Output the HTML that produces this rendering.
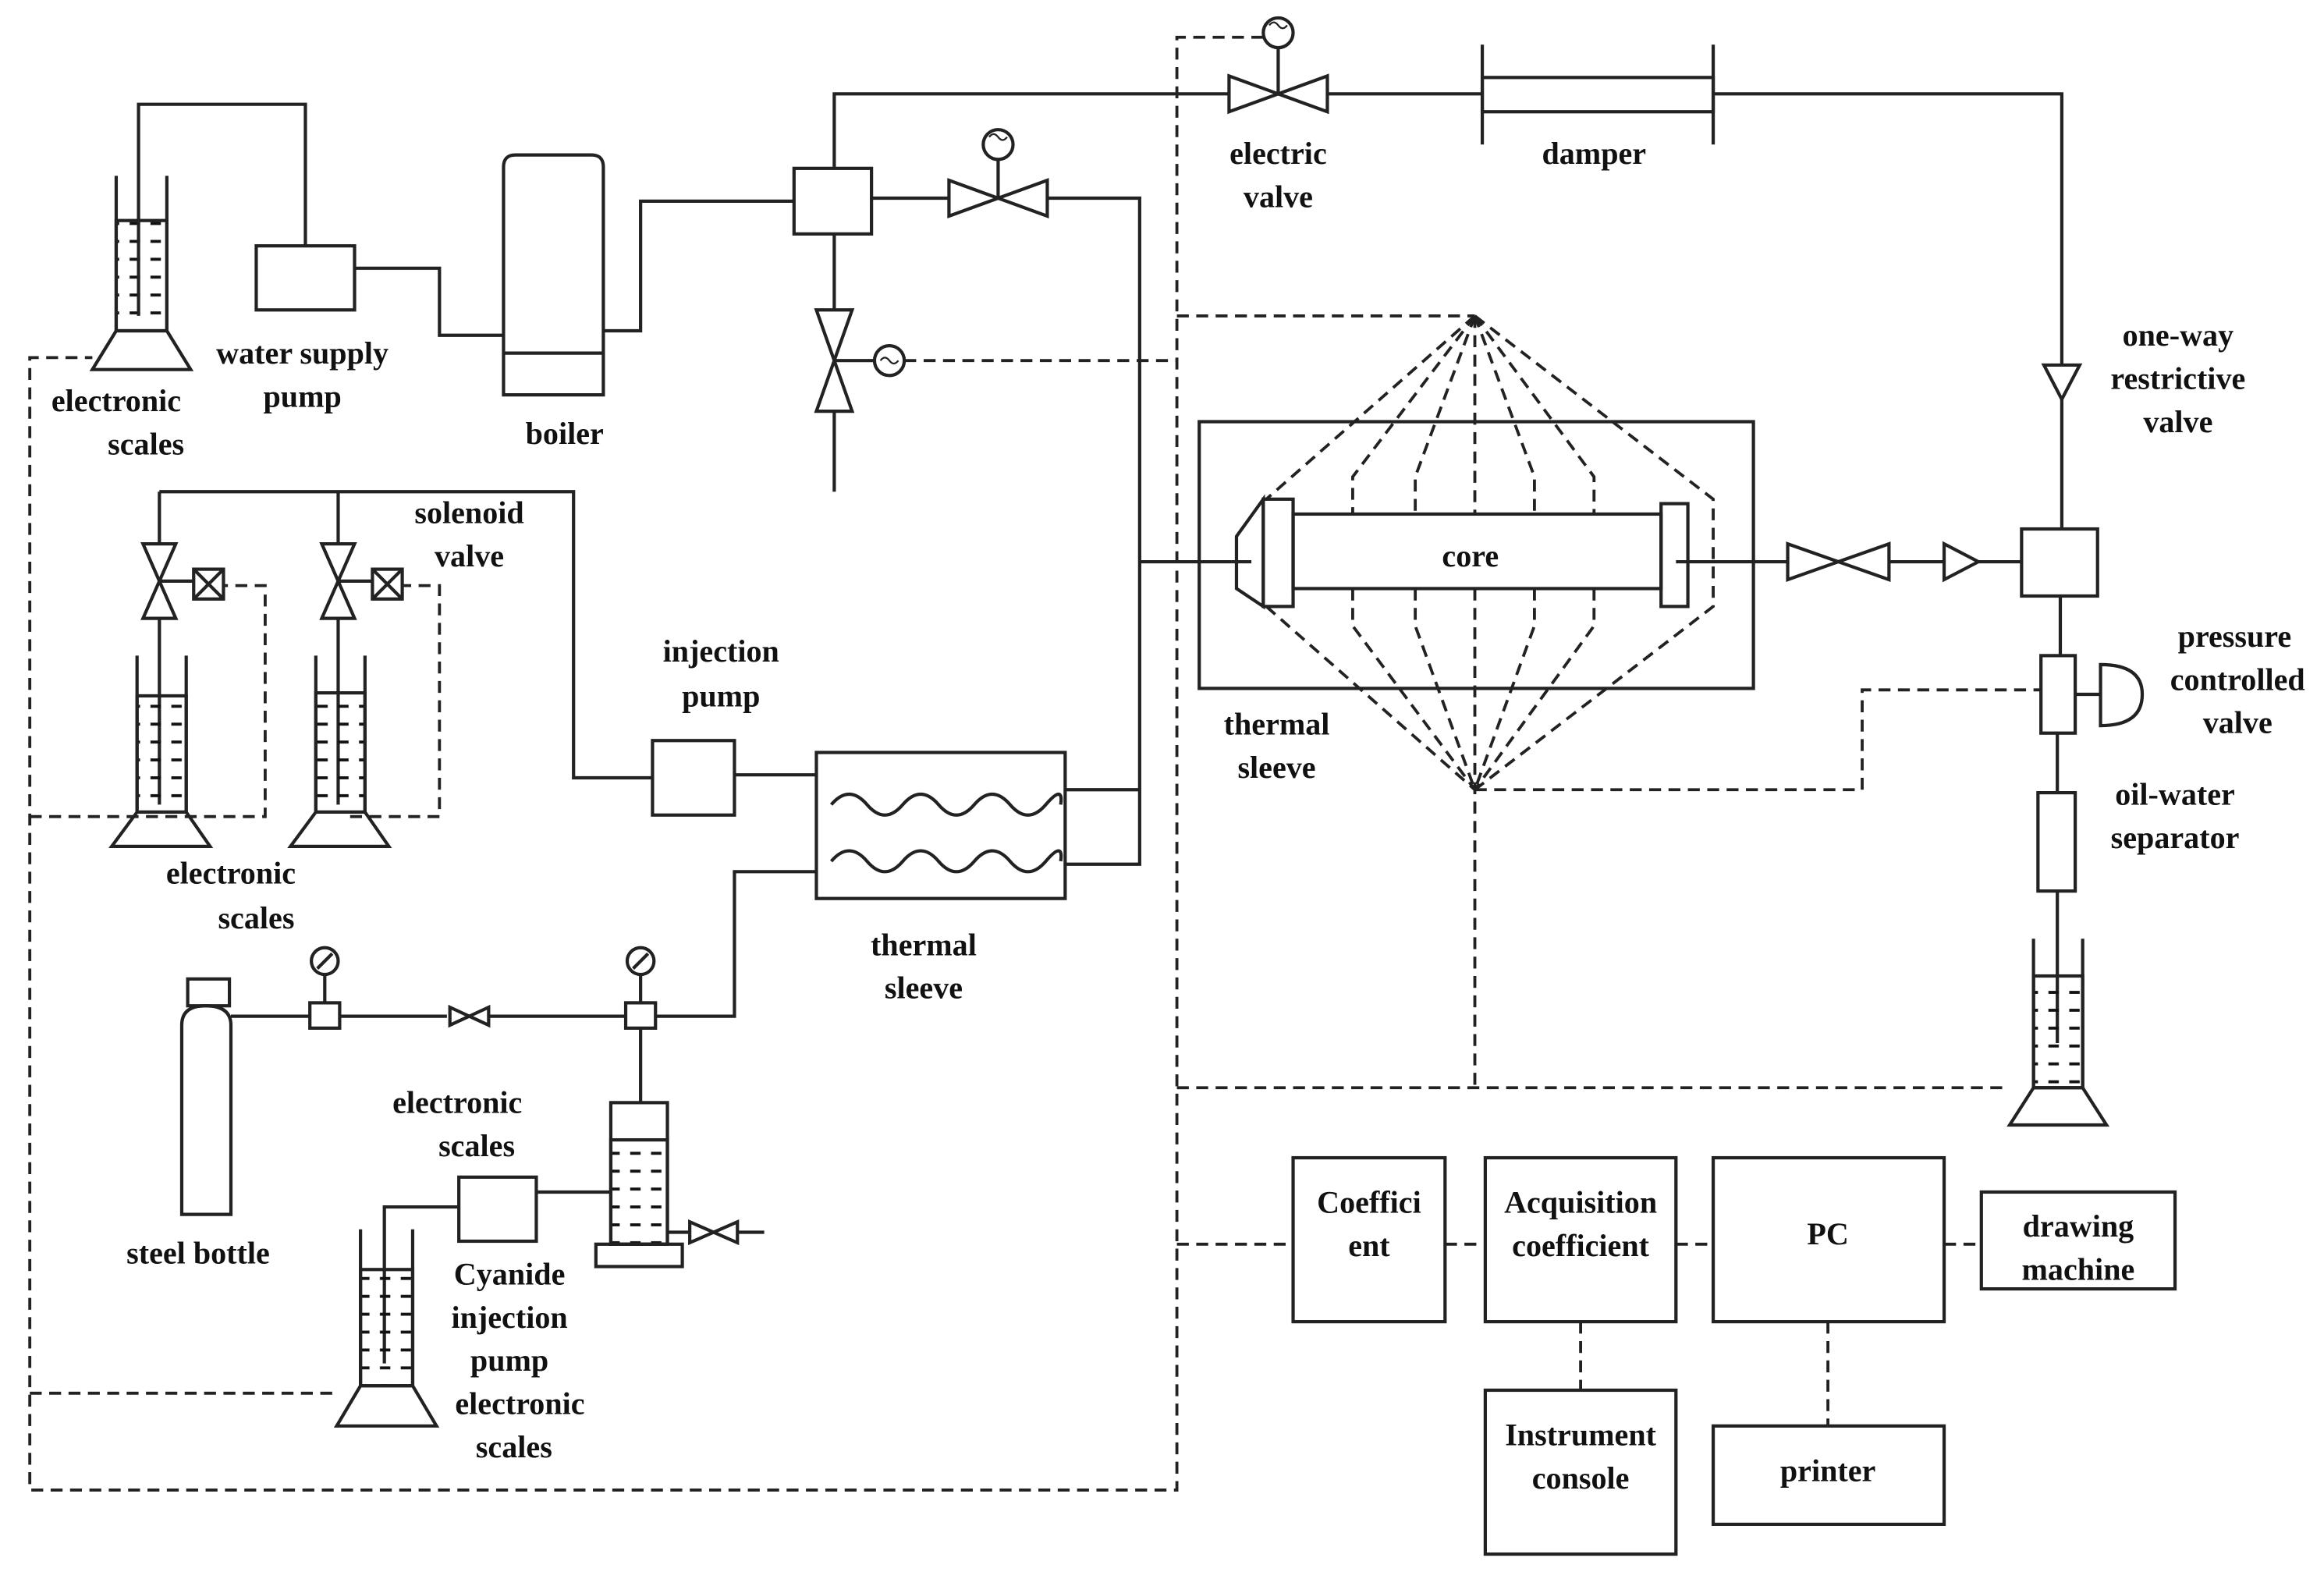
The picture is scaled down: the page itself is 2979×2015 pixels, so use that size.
<!DOCTYPE html>
<html><head><style>
html,body{margin:0;padding:0;background:#fff;}
svg{display:block;}
text{font-family:"Liberation Serif",serif;font-weight:bold;font-size:21px;fill:#111;text-anchor:middle;}
</style></head><body>
<svg width="2979" height="2015" viewBox="0 0 1560 1055" preserveAspectRatio="none" xmlns="http://www.w3.org/2000/svg">
<defs>
<pattern id="liq" width="14" height="12" patternUnits="userSpaceOnUse"><line x1="3" y1="6" x2="10" y2="6" stroke="#111" stroke-width="2"/></pattern>
</defs>
<g fill="none" stroke="#222" stroke-width="2.2">
<line x1="78" y1="118" x2="78" y2="222"/><line x1="112" y1="118" x2="112" y2="222"/>
<rect x="78" y="148" width="34" height="74" fill="url(#liq)"/>
<polygon points="78,222 112,222 128,248 62,248"/>
<polyline points="93,212 93,70 205,70 205,165"/>
<rect x="172" y="165" width="66" height="43"/>
<polyline points="238,180 295,180 295,225 338,225"/>
<path d="M338,265 L338,112 Q338,104 346,104 L397,104 Q405,104 405,112 L405,265 Z"/>
<line x1="338" y1="237" x2="405" y2="237"/>
<polyline points="405,222 430,222 430,135 533,135"/>
<rect x="533" y="113" width="52" height="44"/>
<polyline points="560,113 560,63 825,63"/>
<polygon points="825,51 858,63 825,75"/><polygon points="891,51 858,63 891,75"/>
<line x1="858" y1="63" x2="858" y2="32"/><circle cx="858" cy="22" r="10"/>
<line x1="891" y1="63" x2="995" y2="63"/>
<rect x="995" y="52" width="155" height="23"/>
<line x1="995" y1="30" x2="995" y2="97"/><line x1="1150" y1="30" x2="1150" y2="97"/>
<polyline points="1150,63 1384,63 1384,245"/>
<polygon points="1372,245 1396,245 1384,268"/>
<line x1="1384" y1="268" x2="1384" y2="355"/>
<rect x="1357" y="355" width="51" height="45"/>
<line x1="1383" y1="400" x2="1383" y2="440"/>
<rect x="1370" y="440" width="23" height="52"/>
<line x1="1393" y1="466" x2="1410" y2="466"/>
<path d="M1410,446 Q1438,446 1438,466 Q1438,487 1410,487 Z"/>
<line x1="1381" y1="492" x2="1381" y2="532"/>
<rect x="1368" y="532" width="25" height="66"/>
<line x1="1381" y1="598" x2="1381" y2="700"/>
<line x1="1365" y1="630" x2="1365" y2="730"/><line x1="1398" y1="630" x2="1398" y2="730"/>
<rect x="1365" y="655" width="33" height="75" fill="url(#liq)"/>
<polygon points="1365,730 1398,730 1414,755 1349,755"/>
<line x1="585" y1="133" x2="637" y2="133"/>
<polygon points="637,121 670,133 637,145"/><polygon points="703,121 670,133 703,145"/>
<line x1="670" y1="133" x2="670" y2="107"/><circle cx="670" cy="97" r="10"/>
<polyline points="703,133 765,133 765,580 715,580"/>
<line x1="715" y1="530" x2="765" y2="530"/>
<line x1="765" y1="377" x2="840" y2="377"/>
<line x1="560" y1="157" x2="560" y2="208"/>
<polygon points="548,208 560,242 572,208"/><polygon points="548,276 560,242 572,276"/>
<line x1="560" y1="276" x2="560" y2="330"/>
<line x1="560" y1="242" x2="587" y2="242"/><circle cx="597" cy="242" r="10"/>
<rect x="805" y="283" width="372" height="179"/>
<polygon points="848,335 830,360 830,395 848,407"/>
<rect x="848" y="335" width="20" height="72" fill="#fff"/>
<rect x="868" y="345" width="247" height="50"/>
<rect x="1115" y="338" width="18" height="69"/>
<line x1="1125" y1="377" x2="1200" y2="377"/>
<polygon points="1200,365 1234,377 1200,389"/><polygon points="1268,365 1234,377 1268,389"/>
<line x1="1268" y1="377" x2="1305" y2="377"/>
<polygon points="1305,365 1328,377 1305,389"/>
<line x1="1328" y1="377" x2="1357" y2="377"/>
<polyline points="107,330 385,330 385,522 438,522"/>
<rect x="438" y="497" width="55" height="50"/>
<line x1="493" y1="520" x2="548" y2="520"/>
<rect x="548" y="505" width="167" height="98"/>
<path d="M558,540 q12,-14 24,0 t24,0 t24,0 t24,0 t24,0 t24,0 t10,0"/>
<path d="M558,578 q12,-14 24,0 t24,0 t24,0 t24,0 t24,0 t24,0 t10,0"/>
<line x1="107" y1="330" x2="107" y2="365"/>
<polygon points="96,365 107,390 118,365"/><polygon points="96,415 107,390 118,415"/>
<line x1="107" y1="390" x2="130" y2="390"/><rect x="130" y="382" width="20" height="20"/>
<line x1="130" y1="382" x2="150" y2="402"/><line x1="150" y1="382" x2="130" y2="402"/>
<line x1="107" y1="415" x2="107" y2="540"/>
<line x1="92" y1="440" x2="92" y2="545"/><line x1="125" y1="440" x2="125" y2="545"/>
<rect x="92" y="467" width="33" height="78" fill="url(#liq)"/>
<polygon points="92,545 125,545 141,568 75,568"/>
<line x1="227" y1="330" x2="227" y2="365"/>
<polygon points="216,365 227,390 238,365"/><polygon points="216,415 227,390 238,415"/>
<line x1="227" y1="390" x2="250" y2="390"/><rect x="250" y="382" width="20" height="20"/>
<line x1="250" y1="382" x2="270" y2="402"/><line x1="270" y1="382" x2="250" y2="402"/>
<line x1="227" y1="415" x2="227" y2="540"/>
<line x1="212" y1="440" x2="212" y2="545"/><line x1="245" y1="440" x2="245" y2="545"/>
<rect x="212" y="465" width="33" height="80" fill="url(#liq)"/>
<polygon points="212,545 245,545 261,568 195,568"/>
<rect x="126" y="657" width="28" height="18"/>
<path d="M122,815 L122,688 Q122,675 138,675 Q155,675 155,688 L155,815 Z"/>
<line x1="155" y1="682" x2="208" y2="682"/>
<rect x="208" y="673" width="20" height="17"/>
<line x1="218" y1="673" x2="218" y2="655"/><circle cx="218" cy="645" r="9"/><line x1="213" y1="650" x2="223" y2="640"/>
<line x1="228" y1="682" x2="300" y2="682"/>
<polygon points="302,676 315,682 302,688"/><polygon points="328,676 315,682 328,688"/>
<line x1="328" y1="682" x2="420" y2="682"/>
<rect x="420" y="673" width="20" height="17"/>
<line x1="430" y1="673" x2="430" y2="655"/><circle cx="430" cy="645" r="9"/><line x1="425" y1="650" x2="435" y2="640"/>
<polyline points="440,682 493,682 493,585 548,585"/>
<line x1="430" y1="690" x2="430" y2="740"/>
<rect x="410" y="740" width="38" height="95"/>
<rect x="410" y="765" width="38" height="70" fill="url(#liq)"/>
<rect x="400" y="835" width="58" height="15"/>
<line x1="448" y1="827" x2="463" y2="827"/>
<polygon points="463,820 479,827 463,834"/><polygon points="495,820 479,827 495,834"/>
<line x1="495" y1="827" x2="513" y2="827"/>
<rect x="308" y="790" width="52" height="43"/>
<line x1="360" y1="800" x2="410" y2="800"/>
<polyline points="308,810 258,810 258,915"/>
<line x1="242" y1="825" x2="242" y2="930"/><line x1="277" y1="825" x2="277" y2="930"/>
<rect x="242" y="852" width="35" height="78" fill="url(#liq)"/>
<polygon points="242,930 277,930 293,957 226,957"/>
<rect x="868" y="777" width="102" height="110"/>
<rect x="997" y="777" width="128" height="110"/>
<rect x="1150" y="777" width="155" height="110"/>
<rect x="1330" y="800" width="130" height="65"/>
<rect x="997" y="933" width="128" height="110"/>
<rect x="1150" y="957" width="155" height="66"/>
</g>
<g fill="none" stroke="#222" stroke-width="1.2">
<path d="M852,17 q3,-4 6,0 t6,0"/><path d="M664,92 q3,-4 6,0 t6,0"/><path d="M591,242 q3,-4 6,0 t6,0"/>
</g>
<g fill="none" stroke="#222" stroke-width="2" stroke-dasharray="8,5">
<polyline points="848,25 790,25 790,1000 20,1000 20,240 62,240"/>
<polyline points="20,548 178,548 178,393 150,393"/>
<polyline points="235,548 295,548 295,393 270,393"/>
<line x1="20" y1="935" x2="226" y2="935"/>
<line x1="607" y1="242" x2="790" y2="242"/>
<polyline points="790,212 990,212"/>
<polyline points="990,212 850,335"/><polyline points="990,212 908,320 908,345"/><polyline points="990,212 950,320 950,345"/>
<line x1="990" y1="212" x2="990" y2="345"/>
<polyline points="990,212 1030,320 1030,345"/><polyline points="990,212 1070,320 1070,345"/><polyline points="990,212 1150,335 1150,407 990,530"/>
<polyline points="850,407 990,530"/><polyline points="908,395 908,420 990,530"/><polyline points="950,395 950,420 990,530"/>
<line x1="990" y1="395" x2="990" y2="730"/>
<polyline points="1030,395 1030,420 990,530"/><polyline points="1070,395 1070,420 990,530"/>
<polyline points="990,530 1250,530 1250,463 1370,463"/>
<line x1="790" y1="730" x2="1349" y2="730"/>
<line x1="790" y1="835" x2="868" y2="835"/>
<line x1="970" y1="835" x2="997" y2="835"/>
<line x1="1125" y1="835" x2="1150" y2="835"/>
<line x1="1305" y1="835" x2="1330" y2="835"/>
<line x1="1061" y1="887" x2="1061" y2="933"/>
<line x1="1227" y1="887" x2="1227" y2="957"/>
</g>
<text x="858" y="110">electric</text><text x="858" y="139">valve</text>
<text x="1070" y="110">damper</text>
<text x="1462" y="232">one-way</text><text x="1462" y="261">restrictive</text><text x="1462" y="290">valve</text>
<text x="203" y="244">water supply</text><text x="203" y="273">pump</text>
<text x="78" y="276">electronic</text><text x="98" y="305">scales</text>
<text x="379" y="298">boiler</text>
<text x="315" y="351">solenoid</text><text x="315" y="380">valve</text>
<text x="484" y="444">injection</text><text x="484" y="474">pump</text>
<text x="987" y="380">core</text>
<text x="857" y="493">thermal</text><text x="857" y="522">sleeve</text>
<text x="1500" y="434">pressure</text><text x="1502" y="463">controlled</text><text x="1502" y="492">valve</text>
<text x="1460" y="540">oil-water</text><text x="1460" y="569">separator</text>
<text x="155" y="593">electronic</text><text x="172" y="623">scales</text>
<text x="620" y="641">thermal</text><text x="620" y="670">sleeve</text>
<text x="307" y="747">electronic</text><text x="320" y="776">scales</text>
<text x="133" y="848">steel bottle</text>
<text x="342" y="862">Cyanide</text><text x="342" y="891">injection</text><text x="342" y="920">pump</text>
<text x="349" y="949">electronic</text>
<text x="345" y="978">scales</text>
<text x="919" y="814">Coeffici</text><text x="919" y="843">ent</text>
<text x="1061" y="814">Acquisition</text><text x="1061" y="843">coefficient</text>
<text x="1227" y="835">PC</text>
<text x="1395" y="830">drawing</text><text x="1395" y="859">machine</text>
<text x="1061" y="970">Instrument</text><text x="1061" y="999">console</text>
<text x="1227" y="994">printer</text>
</svg>
</body></html>
